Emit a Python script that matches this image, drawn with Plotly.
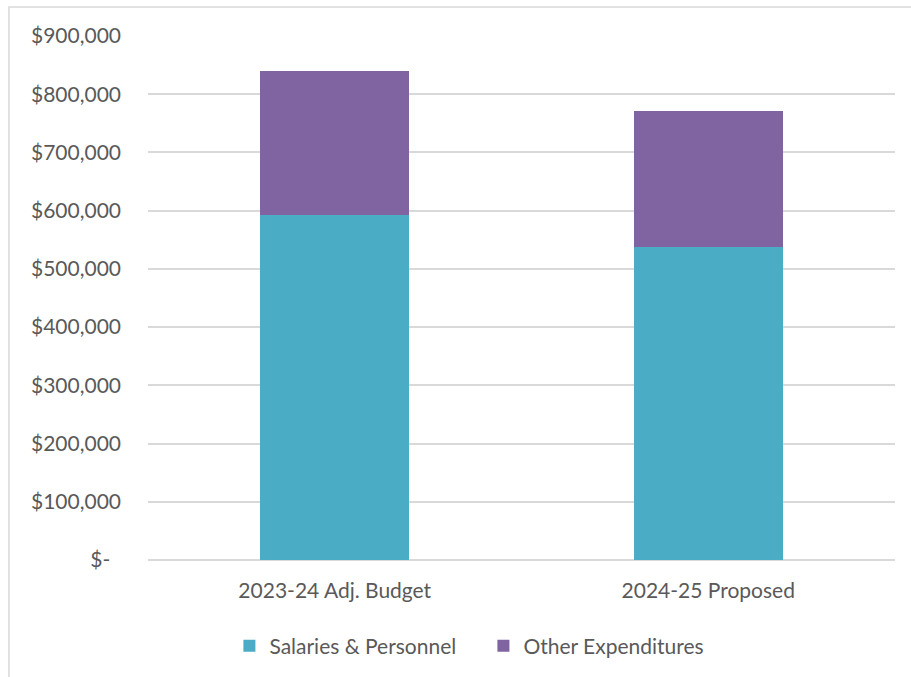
import plotly.graph_objects as go

# Budget comparison: stacked expenditure categories per fiscal year
categories = ["2023-24 Adj. Budget", "2024-25 Proposed"]
salaries_personnel = [593000, 538000]
other_expenditures = [247000, 233000]

y_tick_values = [0, 100000, 200000, 300000, 400000, 500000, 600000, 700000, 800000, 900000]
y_tick_labels = ["$-\u00a0\u00a0", "$100,000", "$200,000", "$300,000", "$400,000",
                 "$500,000", "$600,000", "$700,000", "$800,000", "$900,000"]

TEAL = "#4BACC6"
PURPLE = "#8064A2"
TEXT = "#595959"
GRID = "#d9d9d9"
FONT = "Lato, Calibri, sans-serif"

fig = go.Figure()
fig.add_trace(go.Bar(name="Salaries & Personnel", x=categories, y=salaries_personnel,
                     marker=dict(color=TEAL, line=dict(width=0))))
fig.add_trace(go.Bar(name="Other Expenditures", x=categories, y=other_expenditures,
                     marker=dict(color=PURPLE, line=dict(width=0))))

fig.update_layout(
    barmode="stack",
    bargap=0.6,
    width=911, height=677,
    margin=dict(l=148, r=16, t=36, b=116),
    paper_bgcolor="white",
    plot_bgcolor="white",
    font=dict(family=FONT, size=21, color=TEXT),
    showlegend=True,
    legend=dict(orientation="h", x=0.449, xanchor="center", y=-0.162, yanchor="middle",
                font=dict(size=21, color=TEXT), traceorder="normal",
                itemwidth=30, entrywidth=209, entrywidthmode="pixels",
                bgcolor="rgba(0,0,0,0)"),
    xaxis=dict(showgrid=False, showline=False, zeroline=False, ticks="",
               ticklabelstandoff=16, tickfont=dict(size=21, color=TEXT)),
    yaxis=dict(range=[0, 900000], tickvals=y_tick_values, ticktext=y_tick_labels,
               showgrid=True, gridcolor=GRID, gridwidth=1.5,
               zeroline=True, zerolinecolor=GRID, zerolinewidth=1.5,
               showline=False, ticks="", ticklabelstandoff=26,
               tickfont=dict(size=21, color=TEXT)),
    shapes=[dict(type="rect", xref="paper", yref="paper",
                 x0=-0.1861, x1=1.05, y0=-0.25, y1=1.0552,
                 line=dict(color=GRID, width=1.5), fillcolor="rgba(0,0,0,0)", layer="below")],
)

fig.write_html("out.html")
